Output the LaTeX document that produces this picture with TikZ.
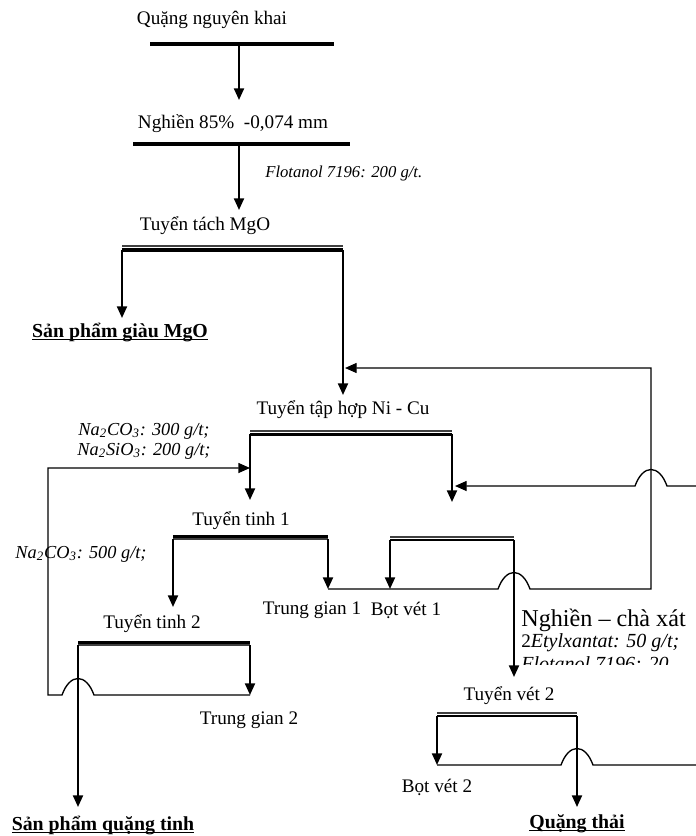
\documentclass[tikz,border=0pt]{standalone}
\usepackage{fontspec}
\setmainfont{Liberation Serif}
\usetikzlibrary{arrows.meta}

\begin{document}
\begin{tikzpicture}[x=0.6pt, y=-0.6pt,
	every node/.style={font=\fontsize{11.5}{13}\selectfont, inner sep=0pt},
	reag/.style={font=\fontsize{10}{12}\selectfont\itshape},
	prod/.style={font=\fontsize{11.9}{13}\selectfont\bfseries, anchor=base},
	bar/.style={line width=2.4pt},
	thinbar/.style={line width=1pt, black!75},
	flow/.style={line width=1.2pt, -{Triangle[length=7pt,width=6pt]}},
	back/.style={line width=0.8pt},
	backarr/.style={back, -{Triangle[length=7pt,width=6pt]}}]

	\useasboundingbox (0,0) rectangle (696,836);

	% text
	\node (raw) at (212,20) {Quặng nguyên khai};
	\node (grind) at (233,124) {Nghiền 85\%\ \ -0,074 mm};
	\node[reag, anchor=west] (r1) at (265,173) {Flotanol 7196: 200 g/t.};
	\node (mgo) at (205,226) {Tuyển tách MgO};
	\node[prod] (pmgo) at (120,337) {\underline{\smash{Sản phẩm giàu MgO}}};
	\node (rough) at (343,410) {Tuyển tập hợp Ni - Cu};
	\node[reag, font=\fontsize{11}{12}\selectfont\itshape, align=center] (r2) at (144,441) {Na\textsubscript{2}CO\textsubscript{3}: 300 g/t;\\Na\textsubscript{2}SiO\textsubscript{3}: 200 g/t;};
	\node (cl1) at (241,521) {Tuyển tinh 1};
	\node[reag, font=\fontsize{11}{12}\selectfont\itshape] (r3) at (81,554) {Na\textsubscript{2}CO\textsubscript{3}: 500 g/t;};
	\node (mid1) at (312,610) {Trung gian 1};
	\node (scf1) at (406,610) {Bọt vét 1};
	\node (cl2) at (152,624) {Tuyển tinh 2};
	\node[anchor=west, font=\fontsize{14.5}{16}\selectfont] (regr) at (521,620) {Nghiền – chà xát};
	\node[anchor=west] (r4) at (521,643) {2\textit{\fontsize{12}{13}\selectfont Etylxantat: 50 g/t;}};
	\begin{scope}
		\clip (515,650) rectangle (696,664);
		\node[anchor=west, font=\fontsize{12}{13}\selectfont\itshape] (r5) at (521,664) {Flotanol 7196: 20};
	\end{scope}
	\node (scv2) at (509,696) {Tuyển vét 2};
	\node (mid2) at (249,720) {Trung gian 2};
	\node (scf2) at (437,787) {Bọt vét 2};
	\node[prod] (conc) at (103,830) {\underline{\smash{Sản phẩm quặng tinh}}};
	\node[prod] (tail) at (577,828) {\underline{\smash{Quặng thải}}};

	% bar ends
	\coordinate (b1) at (239,44);
	\coordinate (b2) at (239,144);
	\coordinate (m1) at (122,250); \coordinate (m2) at (343,250);
	\coordinate (h1) at (250,434); \coordinate (h2) at (452,434);
	\coordinate (t1) at (173,539); \coordinate (t2) at (328,539);
	\coordinate (v1) at (390,540); \coordinate (v2) at (514,540);
	\coordinate (s1) at (78,645);  \coordinate (s2) at (250,645);
	\coordinate (w1) at (437,716); \coordinate (w2) at (577,716);

	% bars
	\draw[bar] (150,44) -- (334,44);
	\draw[bar] (133,144) -- (350,144);
	\draw[thinbar] (122,246) -- (343,246);
	\draw[bar] (m1) -- (m2);
	\draw[thinbar] (250,431) -- (452,431);
	\draw[bar, line width=1.8pt] (h1) -- (h2);
	\draw[bar, line width=1.8pt] (173,536) -- (328,536);
	\draw[thinbar] (t1) -- (t2);
	\draw[thinbar] (390,537) -- (514,537);
	\draw[bar, line width=1.4pt] (v1) -- (v2);
	\draw[bar, line width=1.8pt] (78,642) -- (250,642);
	\draw[thinbar] (s1) -- (s2);
	\draw[thinbar] (437,713) -- (577,713);
	\draw[bar, line width=1.4pt] (w1) -- (w2);

	% arrow ends
	\coordinate (a1) at (239,100);
	\coordinate (a2) at (239,210);
	\coordinate (a3) at (122,318);
	\coordinate (a4) at (343,395);
	\coordinate (a5) at (250,500);
	\coordinate (a6) at (452,502);
	\coordinate (a7) at (173,607);
	\coordinate (a8) at (328,589);
	\coordinate (a9) at (390,589);
	\coordinate (a10) at (514,677);
	\coordinate (a11) at (78,807);
	\coordinate (a12) at (250,695);
	\coordinate (a13) at (437,765);
	\coordinate (a14) at (577,807);

	% main flows
	\draw[flow] (b1) -- (a1);
	\draw[flow] (b2) -- (a2);
	\draw[flow] (m1) -- (a3);
	\draw[flow] (m2) -- (a4);
	\draw[flow] (h1) -- (a5);
	\draw[flow] (h2) -- (a6);
	\draw[flow] (t1) -- (a7);
	\draw[flow] (t2) -- (a8);
	\draw[flow] (v1) -- (a9);
	\draw[flow] (v2) -- (a10);
	\draw[flow] (s1) -- (a11);
	\draw[flow] (s2) -- (a12);
	\draw[flow] (w1) -- (a13);
	\draw[flow] (w2) -- (a14);

	% return lines
	\coordinate (e1) at (696,486);
	\coordinate (e2) at (696,765);
	\draw[backarr] (a8) -- (498,589) .. controls (506,567) and (522,567) .. (530,589)
		-- (651,589) -- (651,368) -- (345,368);
	\draw[backarr] (e1) -- (667,486) .. controls (659,464) and (643,464) .. (635,486)
		-- (455,486);
	\draw[backarr] (a12) -- (94,695) .. controls (86,673) and (70,673) .. (62,695)
		-- (48,695) -- (48,468) -- (250,468);
	\draw[back] (a13) -- (561,765) .. controls (569,743) and (585,743) .. (593,765)
		-- (e2);
\end{tikzpicture}
\end{document}
